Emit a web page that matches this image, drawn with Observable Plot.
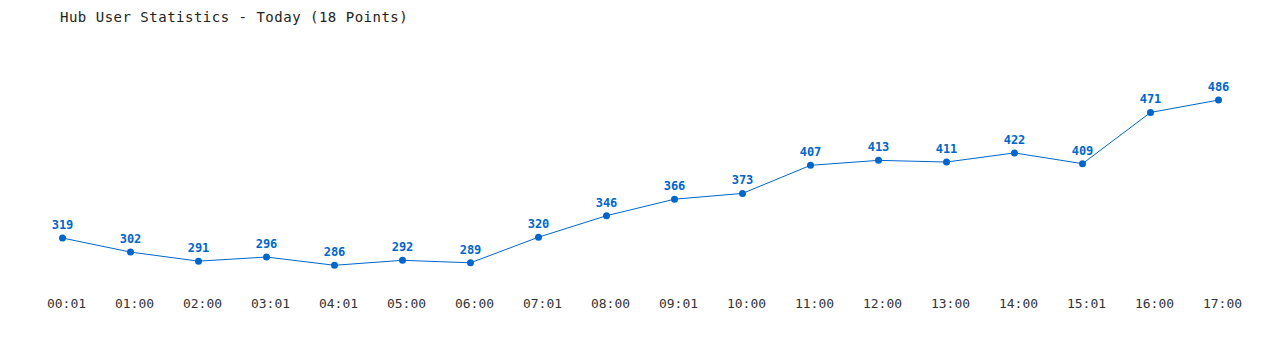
<!DOCTYPE html>
<html>
<head>
<meta charset="utf-8">
<script src="https://cdn.jsdelivr.net/npm/d3@7"></script>
<script src="https://cdn.jsdelivr.net/npm/@observablehq/plot@0.6"></script>
<style>
  body { margin: 0; background: #fff; }
  #title { height: 36px; box-sizing: border-box; padding: 9px 0 0 60px; font: 14px "DejaVu Sans Mono", monospace; letter-spacing: 0.5px; color: #222; }
</style>
</head>
<body>
<div id="title">Hub User Statistics - Today (18 Points)</div>
<div id="chart"></div>
<script>
const times = ["00:01","01:00","02:00","03:01","04:01","05:00","06:00","07:01","08:00","09:01","10:00","11:00","12:00","13:00","14:00","15:01","16:00","17:00"];
const users = [319,302,291,296,286,292,289,320,346,366,373,407,413,411,422,409,471,486];

const data = times.map((t, i) => ({time: t, users: users[i]}));
const blue = "#0066cc";

const chart = Plot.plot({
  width: 1280,
  height: 314,
  marginLeft: 58,
  marginRight: 59,
  marginTop: 52,
  marginBottom: 72,
  x: {type: "point", domain: times, padding: 0},
  y: {domain: [270, 500], axis: null},
  style: {background: "#fff"},
  marks: [
    Plot.axisX({tickSize: 0, tickPadding: 20, dx: 4, fontSize: 13, fill: "#333", fontFamily: "DejaVu Sans Mono, monospace", label: null}),
    Plot.line(data, {x: "time", y: "users", stroke: blue, strokeWidth: 1}),
    Plot.dot(data, {x: "time", y: "users", r: 3.5, fill: blue, stroke: "none"}),
    Plot.text(data, {x: "time", y: "users", text: d => String(d.users), dy: -13, fill: blue, fontSize: 12, fontWeight: "bold", fontFamily: "DejaVu Sans Mono, monospace"})
  ]
});
document.getElementById("chart").appendChild(chart);
</script>
</body>
</html>
